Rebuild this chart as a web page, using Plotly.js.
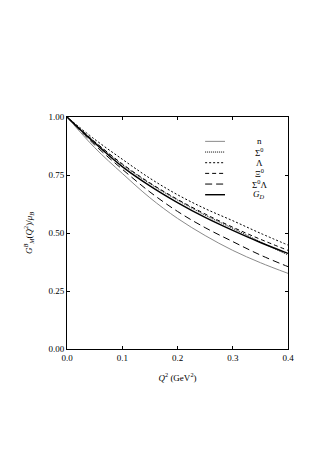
<!DOCTYPE html>
<html>
<head>
<meta charset="utf-8">
<script src="https://cdn.plot.ly/plotly-3.0.1.min.js"></script>
<style>
  html, body { margin: 0; padding: 0; background: #fff; }
  #plot { width: 331px; height: 468px; }
</style>
</head>
<body>
<div id="plot"></div>
<script>
// Q^2 in GeV^2
const q2 = [0, 0.05, 0.1, 0.15, 0.2, 0.25, 0.3, 0.35, 0.4];

// G_M^B(Q^2)/mu_B
const gN      = [1, 0.868, 0.757, 0.652, 0.563, 0.489, 0.425, 0.372, 0.326];
const gSigma0 = [1, 0.893, 0.795, 0.713, 0.642, 0.577, 0.520, 0.462, 0.405];
const gLambda = [1, 0.904, 0.818, 0.736, 0.665, 0.605, 0.553, 0.499, 0.448];
const gXi0    = [1, 0.894, 0.798, 0.716, 0.645, 0.582, 0.525, 0.473, 0.425];
const gSigLam = [1, 0.880, 0.775, 0.677, 0.593, 0.523, 0.463, 0.405, 0.355];
const gDipole = [1, 0.888, 0.786, 0.703, 0.631, 0.567, 0.511, 0.459, 0.412];

const yTicks = [0, 0.25, 0.5, 0.75, 1];
const xTicks = [0, 0.1, 0.2, 0.3, 0.4];

const labels = ["n", "Σ<sup>0</sup>", "Λ", "Ξ<sup>0</sup>", "Σ<sup>0</sup>Λ", "<i>G<sub>D</sub></i>"];
const series = [gN, gSigma0, gLambda, gXi0, gSigLam, gDipole];

// Linienstile wie im Original
const styles = [
  { color: "#8a8a8a", width: 1, dash: "solid" },
  { color: "#000", width: 1, dash: "1px,1px" },
  { color: "#000", width: 1, dash: "2px,2px" },
  { color: "#000", width: 1, dash: "4px,3px" },
  { color: "#000", width: 1, dash: "7px,4px" },
  { color: "#000", width: 1.4, dash: "solid" }
];

const font = "Liberation Serif, DejaVu Serif, serif";

const traces = series.map((y, i) => ({
  x: q2, y,
  mode: "lines",
  line: { ...styles[i], shape: "spline" },
  showlegend: false,
  hoverinfo: "skip"
}));

// Legende von Hand (Plotly-Legende hat zu grossen Zeilenabstand)
const shapes = [], annotations = [];
labels.forEach((lab, i) => {
  const yp = 0.895 - i * 0.046;
  shapes.push({
    type: "line", xref: "paper", yref: "paper",
    x0: 0.625, x1: 0.715, y0: yp, y1: yp,
    line: styles[i]
  });
  annotations.push({
    xref: "paper", yref: "paper", x: 0.87, y: yp,
    text: lab, showarrow: false, xanchor: "center", yanchor: "middle",
    font: { family: font, size: 9, color: "#000" }
  });
});

const axisBase = {
  showline: true, linecolor: "#000", linewidth: 1, mirror: "ticks",
  ticks: "inside", ticklen: 3, tickcolor: "#000",
  showgrid: false, zeroline: false,
  tickfont: { family: font, size: 9, color: "#000" }
};

Plotly.newPlot("plot", traces, {
  width: 331, height: 468,
  margin: { l: 67, r: 43, t: 117, b: 119 },
  paper_bgcolor: "#fff", plot_bgcolor: "#fff",
  xaxis: {
    ...axisBase,
    range: [0, 0.4],
    tickvals: xTicks, ticktext: xTicks.map(v => v.toFixed(1)),
    title: { text: "<i>Q</i><sup>2</sup> (GeV<sup>2</sup>)", font: { family: font, size: 9, color: "#000" }, standoff: 12 }
  },
  yaxis: {
    ...axisBase,
    range: [0, 1],
    tickvals: yTicks, ticktext: yTicks.map(v => v.toFixed(2)),
    title: { text: "<i>G<sup>B</sup><sub>M</sub></i>(<i>Q</i><sup>2</sup>)/<i>μ<sub>B</sub></i>", font: { family: font, size: 9, color: "#000" }, standoff: 14 }
  },
  shapes, annotations
}, { staticPlot: true });
</script>
</body>
</html>
